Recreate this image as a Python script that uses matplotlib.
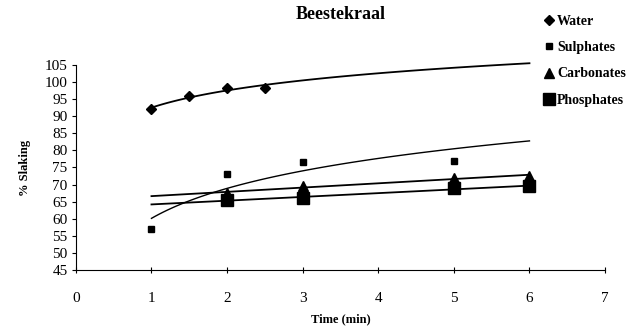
import numpy as np
import matplotlib
matplotlib.use("Agg")
import matplotlib.pyplot as plt

plt.rcParams['font.family'] = ['Liberation Serif', 'DejaVu Serif']

# data
water_x = [1, 1.5, 2, 2.5]
water_y = [92, 96, 98.3, 98.3]
sulph_x = [1, 2, 3, 5]
sulph_y = [57, 73, 76.5, 77]
carb_x = [2, 3, 5, 6]
carb_y = [67.5, 69.5, 72, 72.5]
phos_x = [2, 3, 5, 6]
phos_y = [65.5, 66, 69, 69.5]

fig = plt.figure(figsize=(6.43, 3.31), dpi=100)
ax = fig.add_axes([0.118, 0.184, 0.823, 0.62])

# trendlines : log for water and sulphates, linear for the others
xt = np.linspace(1, 6, 100)
b, a = np.polyfit(np.log(water_x), water_y, 1)
ax.plot(xt, a + b*np.log(xt), color='black', lw=1.3, clip_on=False)
b, a = np.polyfit(np.log(sulph_x), sulph_y, 1)
ax.plot(xt, a + b*np.log(xt), color='black', lw=1.0)
b, a = np.polyfit(carb_x, carb_y, 1)
ax.plot(xt, a + b*xt, color='black', lw=1.3)
b, a = np.polyfit(phos_x, phos_y, 1)
ax.plot(xt, a + b*xt, color='black', lw=1.3)

ax.plot(water_x, water_y, 'D', color='black', ms=5, label='Water', ls='none')
ax.plot(sulph_x, sulph_y, 's', color='black', ms=5, label='Sulphates', ls='none')
ax.plot(carb_x, carb_y, '^', color='black', ms=7, label='Carbonates', ls='none')
ax.plot(phos_x, phos_y, 's', color='black', ms=8, label='Phosphates', ls='none')

ax.set_xlim(0, 7)
ax.set_ylim(45, 105)
ax.set_xticks(range(0, 8))
ax.set_yticks(range(45, 106, 5))
ax.spines['top'].set_visible(False)
ax.spines['right'].set_visible(False)
ax.tick_params(axis='x', direction='inout', length=4, pad=14, labelsize=11)
ax.tick_params(axis='y', direction='out', length=3, pad=3, labelsize=11)

ax.set_title("Beestekraal", fontweight='bold', fontsize=13, pad=33)
ax.set_xlabel("Time (min)", fontweight='bold', fontsize=9, labelpad=6)
ax.set_ylabel("% Slaking", fontweight='bold', fontsize=9, labelpad=10)

leg = ax.legend(loc='upper left', bbox_to_anchor=(0.875, 1.27), frameon=False,
                handlelength=0.6, handletextpad=0.3, labelspacing=0.95,
                borderaxespad=0, prop={'weight': 'bold', 'size': 10})

plt.savefig("out.png", dpi=100)
